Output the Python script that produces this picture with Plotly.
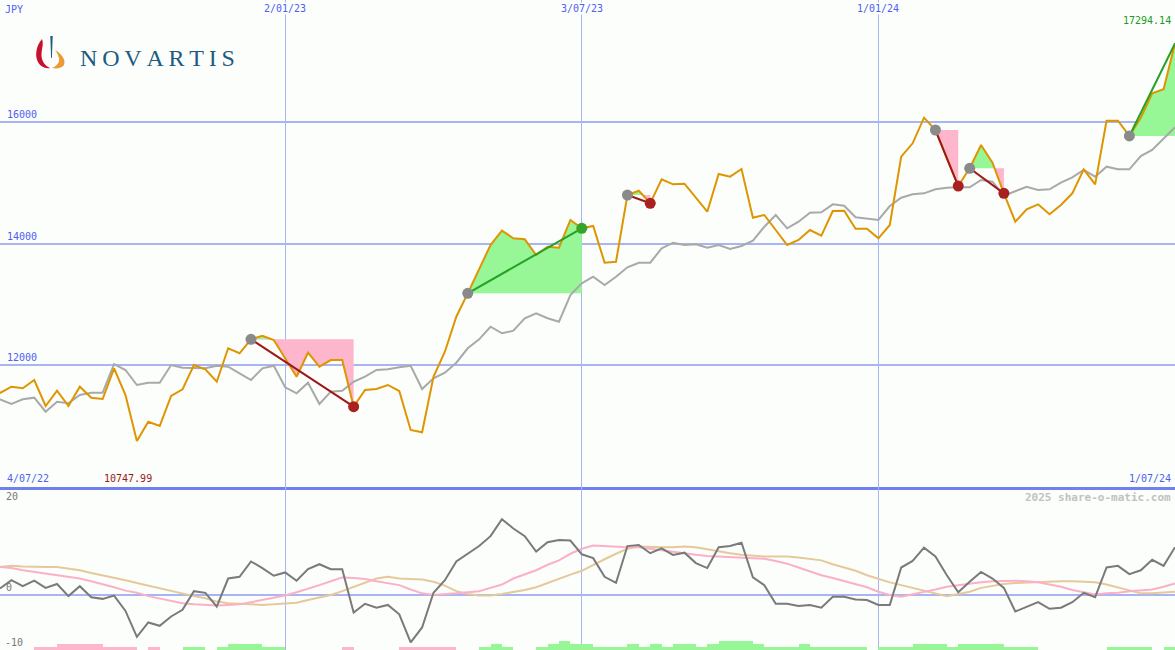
import plotly.graph_objects as go
import pandas as pd

# ---------------- data ----------------
dates = pd.date_range("2022-07-11", periods=104, freq="7D")
tick_dates = ["2023-01-02", "2023-07-03", "2024-01-01"]
tick_labels = ["2/01/23", "3/07/23", "1/01/24"]
start_label = "4/07/22"
end_label = "1/07/24"
price_ticks = [12000, 14000, 16000]

price = [11539, 11643, 11617, 11753, 11325, 11577, 11325, 11643, 11462, 11440,
         11946, 11506, 10747.99, 11067, 10996, 11490, 11600, 12000, 11929, 11725,
         12275, 12193, 12423, 12482, 12412, 12115, 11807, 12202, 11972, 12082,
         12082, 11314, 11588, 11605, 11671, 11572, 10930, 10892, 11807, 12219,
         12795, 13180, 13592, 13975, 14211, 14086, 14069, 13811, 13947, 13931,
         14387, 14250, 14288, 13684, 13700, 14798, 14869, 14662, 15057, 14974,
         14984, 14754, 14523, 15144, 15100, 15226, 14425, 14469, 14222, 13975,
         14058, 14222, 14128, 14535, 14540, 14244, 14244, 14086, 14305, 15429,
         15649, 16071, 15868, 15407, 14946, 15238, 15621, 15330, 14826, 14359,
         14563, 14645, 14481, 14634, 14826, 15221, 14974, 16021, 16021, 15770,
         16071, 16472, 16538, 17294.14]

moving_avg = [11435, 11358, 11435, 11462, 11231, 11396, 11370, 11506, 11544, 11544,
              12016, 11918, 11671, 11709, 11709, 12000, 11956, 11956, 11946, 11988,
              11972, 11863, 11753, 11946, 11988, 11633, 11534, 11709, 11358, 11561,
              11577, 11725, 11807, 11918, 11929, 11962, 11988, 11605, 11781, 11873,
              12038, 12275, 12423, 12630, 12522, 12565, 12769, 12851, 12769, 12713,
              13152, 13345, 13453, 13317, 13453, 13608, 13684, 13684, 13921, 14013,
              13975, 13987, 13931, 13975, 13909, 13959, 14046, 14276, 14469, 14250,
              14359, 14507, 14514, 14645, 14622, 14431, 14415, 14387, 14617, 14754,
              14810, 14826, 14892, 14918, 14925, 14925, 15045, 15017, 14787, 14864,
              14935, 14881, 14892, 15001, 15090, 15210, 15100, 15264, 15221, 15221,
              15440, 15539, 15732, 15913]

momentum = [1.2, 2.7, 1.6, 2.6, 1.3, 2.0, -0.2, 1.6, -0.4, -0.7,
            -0.1, -2.9, -7.6, -5.0, -5.6, -3.9, -2.7, 0.7, 0.4, -2.1,
            3.0, 3.3, 6.1, 4.9, 3.5, 4.1, 2.6, 4.7, 5.6, 4.7,
            4.7, -3.2, -1.6, -2.3, -1.8, -3.5, -8.6, -5.9, 0.4, 2.7,
            6.1, 7.5, 8.9, 10.7, 13.8, 12.1, 10.7, 7.9, 9.6, 10.0,
            9.9, 7.4, 6.7, 3.3, 2.2, 8.9, 9.1, 7.6, 8.5, 7.3,
            7.7, 5.8, 4.9, 8.7, 8.9, 9.5, 3.2, 1.8, -1.6, -1.6,
            -2.0, -1.8, -2.3, -0.3, -0.3, -0.8, -0.9, -1.8, -1.8, 5.0,
            6.2, 8.6, 7.0, 3.6, 0.5, 2.4, 4.2, 3.0, 1.3, -3.0,
            -2.1, -1.3, -2.5, -2.3, -1.3, 0.4, -0.4, 5.0, 5.3, 3.8,
            4.5, 6.4, 5.3, 8.7]

signal_pink = [5.1, 4.9, 4.5, 4.2, 3.9, 3.6, 3.3, 3.0, 2.5, 2.0,
               1.4, 0.8, 0.4, -0.2, -0.6, -1.1, -1.5, -1.7, -1.8, -1.9,
               -1.8, -1.7, -1.3, -0.9, -0.5, -0.1, 0.5, 1.1, 1.8, 2.5,
               3.2, 3.1, 2.9, 2.5, 2.2, 1.8, 1.0, 0.3, 0.0, 0.1,
               0.3, 0.5, 0.7, 1.3, 1.9, 3.0, 3.7, 4.5, 5.5, 6.3,
               7.5, 8.4, 9.0, 8.9, 8.7, 8.7, 8.7, 8.4, 8.1, 7.8,
               7.5, 7.3, 7.1, 7.0, 7.0, 6.9, 6.7, 6.6, 6.2, 5.7,
               5.0, 4.3, 3.6, 3.1, 2.5, 1.9, 1.4, 0.6, 0.0, -0.3,
               0.1, 0.5, 1.0, 1.5, 1.8, 2.0, 2.3, 2.5, 2.6, 2.6,
               2.5, 2.3, 1.9, 1.5, 0.9, 0.5, 0.1, 0.3, 0.4, 0.7,
               0.9, 1.0, 1.5, 2.1]

signal_tan = [5.1, 5.3, 5.2, 5.1, 5.1, 5.1, 4.8, 4.5, 4.0, 3.6,
              3.2, 2.7, 2.2, 1.7, 1.2, 0.7, 0.3, -0.2, -0.6, -1.2,
              -1.5, -1.6, -1.7, -1.8, -1.7, -1.6, -1.4, -0.9, -0.5, 0.0,
              0.7, 1.5, 2.3, 3.0, 3.3, 3.0, 2.9, 2.8, 2.4, 1.7,
              0.7, 0.2, -0.1, -0.1, 0.2, 0.5, 0.9, 1.4, 2.2, 3.0,
              3.7, 4.4, 5.5, 6.5, 7.5, 8.4, 8.8, 8.7, 8.7, 8.7,
              8.8, 8.7, 8.3, 7.9, 7.6, 7.3, 7.1, 7.0, 7.0, 7.0,
              6.8, 6.5, 6.3, 5.6, 5.0, 4.4, 3.6, 2.9, 2.3, 1.8,
              1.3, 0.7, 0.2, -0.2, 0.2, 0.6, 1.3, 1.7, 2.0, 2.2,
              2.3, 2.4, 2.5, 2.5, 2.5, 2.4, 2.3, 1.9, 1.4, 0.8,
              0.3, 0.3, 0.5, 0.6]

# bar strength per weekly interval (+ green, - pink)
strength = [0, 0, 0, -1, -1, -2, -2, -2, -2, -1,
            -1, -1, 0, -1, 0, 0, 1, 1, 0, 1,
            2, 2, 2, 1, 1, 0, 0, 0, 0, 0,
            -1, 0, 0, 0, 0, -1, -1, -1, -1, -1,
            0, 0, 1, 2, 1, 0, 0, 1, 2, 3,
            2, 2, 1, 1, 1, 2, 1, 2, 1, 2,
            2, 1, 2, 3, 3, 3, 2, 1, 1, 1,
            2, 1, 1, 1, 1, 1, 0, 1, 1, 1,
            2, 2, 2, 1, 2, 2, 2, 2, 1, 1,
            1, 0, 0, 0, 0, 0, 0, 1, 1, 1,
            1, 0, 1]

trend_start = [22, 41, 55, 82, 85, 99]
trend_end = [31, 51, 57, 84, 88, 103]

# ---------------- styles ----------------
BG = "#fbfefb"
BLUE_TXT = "#4f5ff0"
GRID = "#a9b4f2"
ORANGE = "#de9500"
MA_GRAY = "#a9a9a9"
OSC_GRAY = "#7a7a7a"
PINK_LINE = "#fbb0c8"
TAN_LINE = "#e6c99a"
FILL_PINK = "#fdb6cb"
FILL_GREEN = "#97f797"
MONO = "DejaVu Sans Mono"

W, H = 1175, 650
split = 487 / H
main_dom = [1 - split, 1]
low_dom = [0, 1 - split]

n = len(price)
xi = list(range(n))
tick_idx = [int(dates.get_loc(pd.Timestamp(d))) for d in tick_dates]

fig = go.Figure()


def clipped(s, e, base):
    xs, ys = [], []
    for j in range(s, e + 1):
        if j > s:
            p0, p1 = price[j - 1], price[j]
            if (p0 - base) * (p1 - base) < 0:
                t = (base - p0) / (p1 - p0)
                xs.append(j - 1 + t)
                ys.append(base)
        xs.append(j)
        ys.append(price[j])
    return xs, ys


# trend fills
for s, e in zip(trend_start, trend_end):
    base = price[s]
    xs, ys = clipped(s, e, base)
    up = [max(v, base) for v in ys]
    dn = [min(v, base) for v in ys]
    for arr, col in ((up, FILL_GREEN), (dn, FILL_PINK)):
        if any(abs(a - base) > 1e-9 for a in arr):
            fig.add_trace(go.Scatter(x=xs, y=[base] * len(xs), mode="lines",
                                     line=dict(width=0, color=col), hoverinfo="skip",
                                     showlegend=False))
            fig.add_trace(go.Scatter(x=xs, y=arr, mode="lines", fill="tonexty",
                                     fillcolor=col, line=dict(width=0, color=col),
                                     hoverinfo="skip", showlegend=False))

# moving average and price
fig.add_trace(go.Scatter(x=xi, y=moving_avg, mode="lines",
                         line=dict(color=MA_GRAY, width=2), showlegend=False))
fig.add_trace(go.Scatter(x=xi, y=price, mode="lines",
                         line=dict(color=ORANGE, width=2), showlegend=False))

# trend lines and dots
for s, e in zip(trend_start, trend_end):
    upward = price[e] > price[s]
    lc = "#27a027" if upward else "#9e1818"
    dc = "#35a52a" if upward else "#a82020"
    fig.add_trace(go.Scatter(x=[s, e], y=[price[s], price[e]], mode="lines",
                             line=dict(color=lc, width=2), showlegend=False))
    fig.add_trace(go.Scatter(x=[s], y=[price[s]], mode="markers",
                             marker=dict(color="#8a8a8a", size=11), showlegend=False))
    if e < n - 1:
        fig.add_trace(go.Scatter(x=[e], y=[price[e]], mode="markers",
                                 marker=dict(color=dc, size=11), showlegend=False))

# lower panel
fig.add_trace(go.Scatter(x=xi, y=signal_tan, mode="lines", xaxis="x2", yaxis="y2",
                         line=dict(color=TAN_LINE, width=2), showlegend=False))
fig.add_trace(go.Scatter(x=xi, y=signal_pink, mode="lines", xaxis="x2", yaxis="y2",
                         line=dict(color=PINK_LINE, width=2), showlegend=False))
fig.add_trace(go.Scatter(x=xi, y=momentum, mode="lines", xaxis="x2", yaxis="y2",
                         line=dict(color=OSC_GRAY, width=2), showlegend=False))

bx = [i + 0.5 for i, v in enumerate(strength) if v != 0]
by = [abs(v) for v in strength if v != 0]
bc = [FILL_GREEN if v > 0 else FILL_PINK for v in strength if v != 0]
fig.add_trace(go.Bar(x=bx, y=by, width=1, marker=dict(color=bc, line=dict(width=0)),
                     xaxis="x2", yaxis="y3", showlegend=False))

# ---------------- layout ----------------
fig.update_layout(
    width=W, height=H, margin=dict(l=0, r=0, t=0, b=0),
    paper_bgcolor=BG, plot_bgcolor=BG, showlegend=False, bargap=0,
    xaxis=dict(domain=[0, 1], range=[0, n - 1], anchor="y", tickvals=tick_idx,
               showticklabels=False, ticks="", showgrid=True, gridcolor=GRID,
               gridwidth=1, zeroline=False, showline=True, linecolor="#7080ee",
               linewidth=3),
    yaxis=dict(domain=main_dom, range=[9992, 18008], tickvals=price_ticks,
               showticklabels=False, ticks="", showgrid=True, gridcolor=GRID,
               gridwidth=2, zeroline=False),
    xaxis2=dict(domain=[0, 1], range=[0, n - 1], anchor="y2", matches="x",
                tickvals=tick_idx, showticklabels=False, ticks="", showgrid=True,
                gridcolor=GRID, gridwidth=1, zeroline=False),
    yaxis2=dict(domain=low_dom, range=[-10, 19.64], anchor="x2", tickvals=[0],
                showticklabels=False, ticks="", showgrid=True, gridcolor=GRID,
                gridwidth=2, zeroline=False),
    yaxis3=dict(overlaying="y2", anchor="x2", range=[0, 54.3], visible=False),
)

ann = []


def label(text, x, y, xref="paper", yref="paper", color=BLUE_TXT, size=10,
          xanchor="left", yanchor="middle", xshift=0, yshift=0, bg=None, bold=False):
    d = dict(text=("<b>%s</b>" % text) if bold else text, x=x, y=y, xref=xref, yref=yref,
             showarrow=False, xanchor=xanchor, yanchor=yanchor, xshift=xshift,
             yshift=yshift, font=dict(family=MONO, size=size, color=color), borderpad=0)
    if bg:
        d["bgcolor"] = bg
    ann.append(d)


label("JPY", 0, 1, xshift=4, yanchor="top", yshift=-3)
for t, lab in zip(tick_idx, tick_labels):
    label(lab, t, 1, xref="x", xanchor="center", yanchor="top", yshift=-2, bg=BG)
for v in price_ticks:
    label(str(v), 0, v, yref="y", xshift=6, yanchor="bottom", yshift=1)
imax = price.index(max(price))
imin = price.index(min(price))
label("%.2f" % price[imax], imax, 1, xref="x", xanchor="right", yanchor="top",
      xshift=-3, yshift=-14, color="#23991f")
label(start_label, 0, main_dom[0], xshift=6, yanchor="bottom", yshift=2)
label("%.2f" % price[imin], imin, main_dom[0], xref="x", xanchor="center",
      yanchor="bottom", yshift=2, xshift=-9, color="#9a1a1a")
label(end_label, 1, main_dom[0], xanchor="right", yanchor="bottom", xshift=-3, yshift=2)
label("2025 share-o-matic.com", 1, main_dom[0], xanchor="right", yanchor="top",
      xshift=-3, yshift=-3, color="#c2c2c2", size=11, bold=True)
label("20", 0, main_dom[0], xshift=5, yanchor="top", yshift=-3, color="#777777")
label("0", 0, 0, yref="y2", xshift=5, yanchor="bottom", yshift=1, color="#777777")
label("-10", 0, 0, xshift=4, yanchor="bottom", yshift=1, color="#777777")

# logo text
ann.append(dict(text="N\u2009O\u2009V\u2009A\u2009R\u2009T\u2009I\u2009S", x=78 / W,
                y=1 - 58 / H, xref="paper", yref="paper", showarrow=False,
                xanchor="left", yanchor="middle",
                font=dict(family="Liberation Serif", size=24, color="#1d5b80")))
fig.update_layout(annotations=ann)


def P(x, y):
    return "%.5f,%.5f" % (x / W, 1 - y / H)


red = ("M " + P(42, 39) + " C " + P(36, 46) + " " + P(35, 55) + " " + P(37.5, 61) +
       " C " + P(39.5, 66) + " " + P(45, 69) + " " + P(50, 68) + " C " + P(45, 66) + " " +
       P(41.5, 61) + " " + P(41.5, 55) + " C " + P(41.5, 49) + " " + P(44, 44) + " " + P(42, 39) + " Z")
orange = ("M " + P(55, 50) + " C " + P(62, 54) + " " + P(66, 60) + " " + P(64, 65) +
          " C " + P(62, 68) + " " + P(57, 69) + " " + P(52, 68) + " C " + P(57, 66) + " " +
          P(60, 62) + " " + P(59, 58) + " C " + P(58, 55) + " " + P(57, 52) + " " + P(55, 50) + " Z")
blue = "M " + P(50.3, 36) + " L " + P(52.7, 36) + " L " + P(51.9, 58) + " L " + P(51.1, 58) + " Z"
shapes = []
for path, col in ((red, "#c8102e"), (orange, "#ec9a36"), (blue, "#1d5b80")):
    shapes.append(dict(type="path", path=path, xref="paper", yref="paper",
                       fillcolor=col, line=dict(width=0)))
fig.update_layout(shapes=shapes)

fig.write_html("out.html", config={"displayModeBar": False},
               post_script="document.body.style.margin='0';document.body.style.overflow='hidden';")
